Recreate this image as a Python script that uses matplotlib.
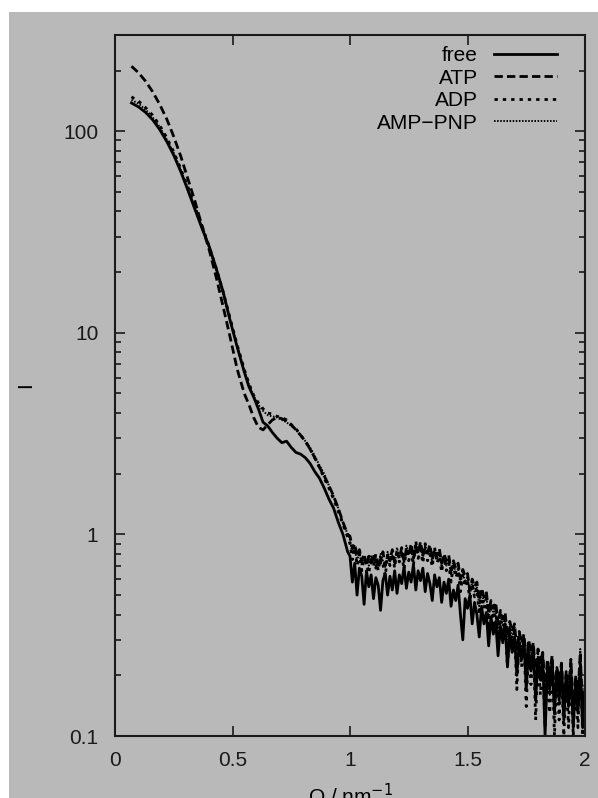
import matplotlib
matplotlib.use('Agg')
import matplotlib.pyplot as plt
from matplotlib.patches import Rectangle

plt.rcParams['font.family'] = ['Liberation Sans', 'DejaVu Sans']

# Q grid (nm^-1)
q_low = [0.07, 0.10, 0.13, 0.16, 0.19, 0.22, 0.25, 0.28, 0.31, 0.34, 0.37, 0.40, 0.43, 0.46,
         0.49, 0.52, 0.55, 0.57, 0.59, 0.61, 0.63, 0.65, 0.67, 0.69, 0.71, 0.73, 0.75, 0.77,
         0.79, 0.81, 0.83, 0.85, 0.87, 0.89, 0.91, 0.93, 0.95, 0.97, 0.99]
q_high = [1.00, 1.01, 1.02, 1.03, 1.04, 1.05, 1.06, 1.07, 1.08, 1.09,
          1.10, 1.11, 1.12, 1.13, 1.14, 1.15, 1.16, 1.17, 1.18, 1.19,
          1.20, 1.21, 1.22, 1.23, 1.24, 1.25, 1.26, 1.27, 1.28, 1.29,
          1.30, 1.31, 1.32, 1.33, 1.34, 1.35, 1.36, 1.37, 1.38, 1.39,
          1.40, 1.41, 1.42, 1.43, 1.44, 1.45, 1.46, 1.47, 1.48, 1.49,
          1.50, 1.51, 1.52, 1.53, 1.54, 1.55, 1.56, 1.57, 1.58, 1.59,
          1.60, 1.61, 1.62, 1.63, 1.64, 1.65, 1.66, 1.67, 1.68, 1.69,
          1.70, 1.71, 1.72, 1.73, 1.74, 1.75, 1.76, 1.77, 1.78, 1.79,
          1.80, 1.81, 1.82, 1.83, 1.84, 1.85, 1.86, 1.87, 1.88, 1.89,
          1.90, 1.91, 1.92, 1.93, 1.94, 1.95, 1.96, 1.97, 1.98, 1.99, 2.00]
q = q_low + q_high

i_free = [138, 132, 124, 114, 102, 89, 76, 63, 51, 41, 33, 27, 21, 16,
          11.5, 8.5, 6.4, 5.4, 4.8, 4.2, 3.6, 3.45, 3.2, 3.0, 2.85, 2.9, 2.7, 2.55,
          2.5, 2.4, 2.25, 2.05, 1.9, 1.7, 1.5, 1.35, 1.15, 1.0, 0.82,
          0.78, 0.58, 0.72, 0.50, 0.68, 0.62, 0.45, 0.66, 0.55, 0.63,
          0.48, 0.61, 0.56, 0.42, 0.59, 0.64, 0.50, 0.62, 0.53, 0.66,
          0.51, 0.63, 0.57, 0.69, 0.54, 0.65, 0.58, 0.71, 0.53, 0.66,
          0.59, 0.68, 0.52, 0.64, 0.57, 0.47, 0.63, 0.55, 0.61, 0.46,
          0.58, 0.51, 0.60, 0.44, 0.53, 0.47, 0.56, 0.40, 0.30, 0.48,
          0.43, 0.50, 0.36, 0.46, 0.40, 0.31, 0.44, 0.36, 0.41, 0.28,
          0.39, 0.32, 0.37, 0.25, 0.35, 0.29, 0.36, 0.22, 0.32, 0.26,
          0.31, 0.20, 0.29, 0.24, 0.30, 0.17, 0.27, 0.21, 0.28, 0.15,
          0.24, 0.19, 0.25, 0.10, 0.22, 0.17, 0.24, 0.13, 0.21, 0.15,
          0.22, 0.12, 0.20, 0.14, 0.21, 0.11, 0.19, 0.13, 0.22, 0.11, 0.17]

i_atp = [210, 195, 177, 157, 136, 115, 94, 75, 58, 45, 34, 26, 19, 13.5,
         9.5, 6.6, 5.0, 4.4, 3.8, 3.4, 3.3, 3.5, 3.7, 3.8, 3.75, 3.65, 3.5, 3.3,
         3.1, 2.9, 2.65, 2.4, 2.15, 1.95, 1.75, 1.55, 1.35, 1.15, 1.0,
         0.98, 0.85, 0.90, 0.78, 0.84, 0.74, 0.80, 0.70, 0.78, 0.72,
         0.80, 0.68, 0.76, 0.72, 0.82, 0.70, 0.78, 0.74, 0.84, 0.73,
         0.81, 0.76, 0.86, 0.74, 0.83, 0.79, 0.90, 0.76, 0.88, 0.80,
         0.92, 0.78, 0.86, 0.81, 0.89, 0.75, 0.84, 0.78, 0.85, 0.72,
         0.80, 0.74, 0.79, 0.66, 0.74, 0.68, 0.72, 0.60, 0.67, 0.62,
         0.64, 0.53, 0.60, 0.55, 0.58, 0.47, 0.54, 0.49, 0.52, 0.41,
         0.47, 0.43, 0.46, 0.36, 0.42, 0.38, 0.41, 0.31, 0.37, 0.33,
         0.36, 0.27, 0.33, 0.29, 0.32, 0.23, 0.30, 0.26, 0.29, 0.20,
         0.27, 0.23, 0.26, 0.17, 0.24, 0.20, 0.25, 0.15, 0.22, 0.19,
         0.23, 0.14, 0.21, 0.17, 0.24, 0.13, 0.20, 0.16, 0.26, 0.12, 0.18]

i_adp = [148, 141, 131, 120, 107, 93, 79, 65, 53, 42, 34, 27, 21, 16,
         11.8, 8.7, 6.6, 5.6, 4.9, 4.5, 4.2, 4.0, 3.95, 3.85, 3.8, 3.7, 3.5, 3.35,
         3.1, 2.9, 2.65, 2.4, 2.15, 1.9, 1.7, 1.5, 1.3, 1.12, 0.97,
         0.90, 0.75, 0.86, 0.70, 0.80, 0.66, 0.76, 0.72, 0.64, 0.78,
         0.70, 0.80, 0.66, 0.77, 0.71, 0.62, 0.79, 0.70, 0.80, 0.68,
         0.84, 0.73, 0.79, 0.67, 0.86, 0.74, 0.82, 0.70, 0.93, 0.76,
         0.84, 0.72, 0.90, 0.74, 0.80, 0.69, 0.86, 0.72, 0.78, 0.65,
         0.77, 0.66, 0.72, 0.58, 0.70, 0.61, 0.66, 0.52, 0.63, 0.55,
         0.60, 0.46, 0.57, 0.49, 0.54, 0.40, 0.51, 0.43, 0.48, 0.34,
         0.45, 0.36, 0.43, 0.28, 0.40, 0.31, 0.38, 0.22, 0.35, 0.26,
         0.34, 0.17, 0.31, 0.22, 0.30, 0.14, 0.28, 0.18, 0.27, 0.12,
         0.25, 0.16, 0.24, 0.11, 0.22, 0.13, 0.23, 0.10, 0.21, 0.12,
         0.22, 0.10, 0.20, 0.11, 0.23, 0.10, 0.19, 0.11, 0.25, 0.10, 0.16]

i_amppnp = [143, 137, 128, 117, 105, 91, 78, 64, 52, 42, 33.5, 26.5, 20.5, 15.5,
            11.5, 8.6, 6.5, 5.5, 4.85, 4.4, 4.1, 3.9, 3.85, 3.8, 3.7, 3.6, 3.45, 3.3,
            3.1, 2.9, 2.7, 2.45, 2.2, 2.0, 1.75, 1.55, 1.35, 1.15, 1.0,
            0.94, 0.80, 0.84, 0.74, 0.82, 0.70, 0.78, 0.74, 0.70, 0.79,
            0.72, 0.77, 0.70, 0.80, 0.74, 0.69, 0.82, 0.76, 0.79, 0.71,
            0.86, 0.78, 0.82, 0.72, 0.88, 0.80, 0.84, 0.74, 0.90, 0.82,
            0.87, 0.76, 0.88, 0.79, 0.83, 0.73, 0.84, 0.76, 0.80, 0.69,
            0.78, 0.70, 0.75, 0.63, 0.72, 0.64, 0.68, 0.57, 0.65, 0.58,
            0.62, 0.50, 0.58, 0.52, 0.55, 0.44, 0.52, 0.46, 0.50, 0.38,
            0.46, 0.40, 0.44, 0.32, 0.41, 0.35, 0.39, 0.27, 0.36, 0.30,
            0.35, 0.22, 0.32, 0.26, 0.31, 0.18, 0.29, 0.22, 0.28, 0.15,
            0.26, 0.19, 0.25, 0.13, 0.23, 0.16, 0.24, 0.12, 0.22, 0.15,
            0.23, 0.12, 0.21, 0.14, 0.24, 0.11, 0.20, 0.13, 0.27, 0.11, 0.19]

labels = ['free', 'ATP', 'ADP', 'AMP\u2212PNP']
x_ticks = [0, 0.5, 1, 1.5, 2]
x_ticklabels = ['0', '0.5', '1', '1.5', '2']
y_ticks = [0.1, 1, 10, 100]
y_ticklabels = ['0.1', '1', '10', '100']

gray = '#b9b9b9'
fig = plt.figure(figsize=(5.98, 7.98), dpi=100, facecolor='white')
fig.patches.append(Rectangle((9 / 598, 0), 1, 1 - 12 / 798, transform=fig.transFigure,
                             facecolor=gray, edgecolor='none', zorder=-10))
ax = fig.add_axes([115 / 598, 62 / 798, 470 / 598, 701 / 798])
ax.set_facecolor(gray)

ax.plot(q, i_free, color='black', lw=2.0, ls='-', label=labels[0])
ax.plot(q, i_atp, color='black', lw=2.0, ls=(0, (3, 1.5)), label=labels[1])
ax.plot(q, i_adp, color='black', lw=2.0, ls=(0, (1.2, 1.8)), label=labels[2])
ax.plot(q, i_amppnp, color='black', lw=1.4, ls=(0, (0.8, 0.8)), label=labels[3])

ax.set_yscale('log')
ax.set_xlim(0, 2)
ax.set_ylim(0.1, 300)
ax.set_xticks(x_ticks)
ax.set_xticklabels(x_ticklabels)
ax.set_yticks(y_ticks)
ax.set_yticklabels(y_ticklabels)
ax.tick_params(which='both', direction='in', top=True, right=True, labelsize=15,
               colors='#1a1a1a', width=1.2)
ax.tick_params(which='major', length=7)
ax.tick_params(axis='x', which='major', pad=11)
ax.tick_params(axis='y', which='major', pad=12)
ax.tick_params(which='minor', length=4)
for s in ax.spines.values():
    s.set_linewidth(1.5)
    s.set_color('#1a1a1a')

ax.set_ylabel('I', fontsize=15)
ax.yaxis.set_label_coords(-0.17, 0.5)
ax.set_xlabel('Q / nm$^{-1}$', fontsize=15, labelpad=8)

leg = ax.legend(loc='upper right', bbox_to_anchor=(0.958, 0.996), frameon=False,
                markerfirst=False, fontsize=15, handlelength=3.0, handletextpad=0.8,
                labelspacing=0.17, borderaxespad=0)
try:
    leg._legend_box._children[-1]._children[0].align = 'right'
except Exception:
    pass

fig.savefig('out.png', dpi=100, facecolor='white')
